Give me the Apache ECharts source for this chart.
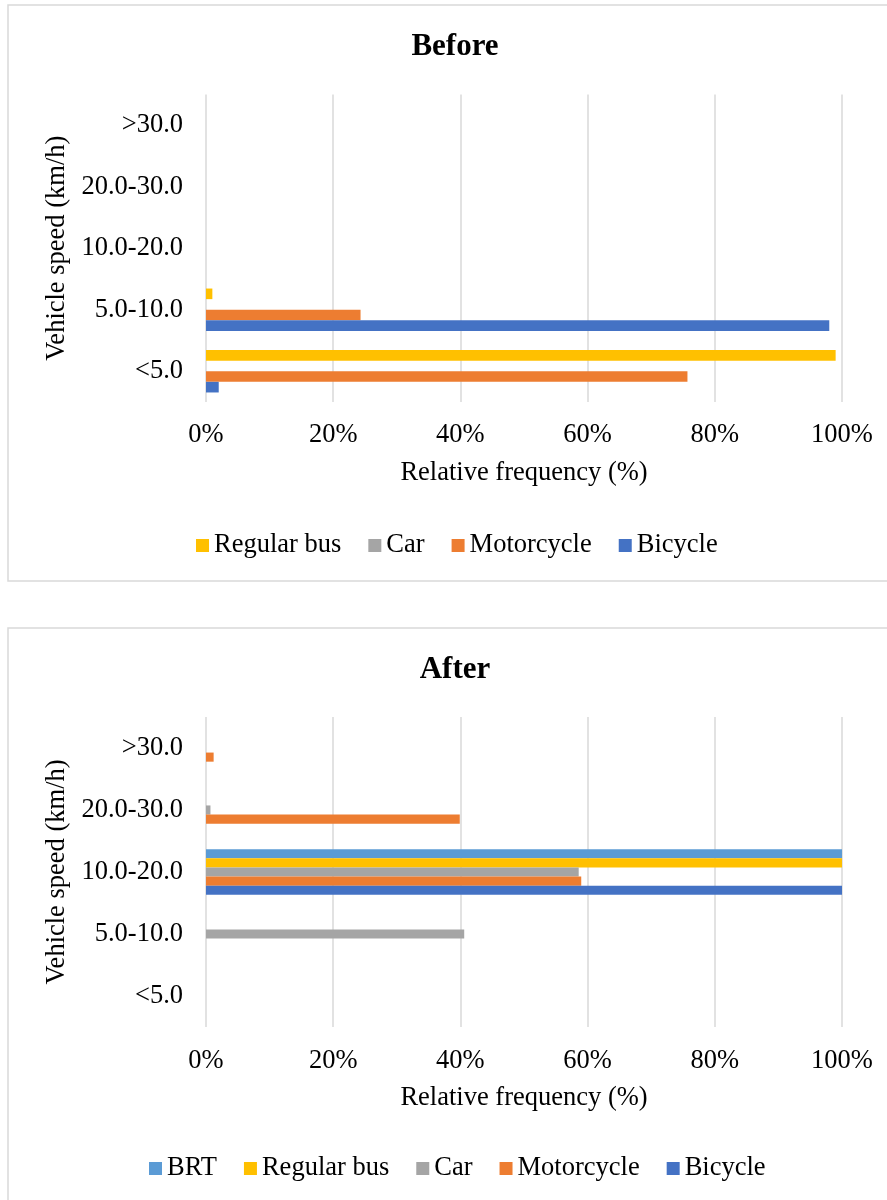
<!DOCTYPE html>
<html>
<head>
<meta charset="utf-8">
<title>Vehicle speed distribution: Before / After</title>
<script src="https://cdn.jsdelivr.net/npm/echarts@6/dist/echarts.min.js"></script>
<style>
  html, body { margin: 0; padding: 0; background: #ffffff; }
  #chart { width: 887px; height: 1200px; }
</style>
</head>
<body>
<div id="chart"></div>
<script>
// Speed classes, bottom to top on the category axis
const speedClasses = ['<5.0', '5.0-10.0', '10.0-20.0', '20.0-30.0', '>30.0'];
const freqTicks = [0, 20, 40, 60, 80, 100];

// Relative frequency (%) per speed class — before
const busBefore        = [99.0, 1.0, 0, 0, 0];
const carBefore        = [0, 0, 0, 0, 0];
const motorcycleBefore = [75.7, 24.3, 0, 0, 0];
const bicycleBefore    = [2.0, 98.0, 0, 0, 0];

// Relative frequency (%) per speed class — after
const brtAfter         = [0, 0, 100, 0, 0];
const busAfter         = [0, 0, 100, 0, 0];
const carAfter         = [0, 40.6, 58.6, 0.7, 0];
const motorcycleAfter  = [0, 0, 59.0, 39.9, 1.2];
const bicycleAfter     = [0, 0, 100, 0, 0];

const legendBefore = ['Regular bus', 'Car', 'Motorcycle', 'Bicycle'];
const legendAfter  = ['BRT', 'Regular bus', 'Car', 'Motorcycle', 'Bicycle'];

const COLORS = {
  'BRT': '#5B9BD5',
  'Regular bus': '#FFC000',
  'Car': '#A5A5A5',
  'Motorcycle': '#ED7D31',
  'Bicycle': '#4472C4'
};

const FONT = "'Liberation Serif', 'Times New Roman', serif";
const FONT_SIZE = 26.5;
const GRID_COLOR = '#d9d9d9';

function bar(name, data, gridIdx, catGap) {
  return {
    type: 'bar',
    name: name,
    xAxisIndex: gridIdx,
    yAxisIndex: gridIdx,
    data: data,
    barGap: '0%',
    barCategoryGap: catGap,
    itemStyle: { color: COLORS[name] },
    emphasis: { disabled: true },
    animation: false
  };
}

function valueAxis(gridIdx, labelMargin, nameGap) {
  return {
    type: 'value',
    gridIndex: gridIdx,
    min: freqTicks[0],
    max: freqTicks[freqTicks.length - 1],
    interval: freqTicks[1] - freqTicks[0],
    name: 'Relative frequency (%)',
    nameLocation: 'middle',
    nameGap: nameGap,
    nameTextStyle: { fontFamily: FONT, fontSize: FONT_SIZE, color: '#000' },
    axisLine: { show: false },
    axisTick: { show: false },
    axisLabel: {
      fontFamily: FONT, fontSize: FONT_SIZE, color: '#000', margin: labelMargin,
      formatter: '{value}%'
    },
    splitLine: { show: true, lineStyle: { color: GRID_COLOR, width: 1.5 } }
  };
}

function categoryAxis(gridIdx) {
  return {
    type: 'category',
    gridIndex: gridIdx,
    data: speedClasses,
    name: 'Vehicle speed (km/h)',
    nameLocation: 'middle',
    nameRotate: 90,
    nameGap: 133,
    nameTextStyle: { fontFamily: FONT, fontSize: FONT_SIZE, color: '#000' },
    axisLine: { show: false },
    axisTick: { show: false },
    axisLabel: { fontFamily: FONT, fontSize: FONT_SIZE, color: '#000', margin: 23 },
    splitLine: { show: false }
  };
}

function legend(names, left, top) {
  return {
    data: names,
    left: left,
    top: top,
    padding: 0,
    orient: 'horizontal',
    icon: 'rect',
    itemWidth: 13,
    itemHeight: 13,
    itemGap: 27,
    selectedMode: false,
    textStyle: { fontFamily: FONT, fontSize: FONT_SIZE, color: '#000' }
  };
}

const chart = echarts.init(document.getElementById('chart'), null, { renderer: 'canvas' });

chart.setOption({
  backgroundColor: '#ffffff',
  animation: false,
  title: [
    {
      text: 'Before', left: 455, top: 31, textAlign: 'center', padding: 0,
      textStyle: { fontFamily: FONT, fontSize: 31, fontWeight: 'bold', color: '#000' }
    },
    {
      text: 'After', left: 455, top: 654, textAlign: 'center', padding: 0,
      textStyle: { fontFamily: FONT, fontSize: 31, fontWeight: 'bold', color: '#000' }
    }
  ],
  legend: [
    legend(legendBefore, 196, 532),
    legend(legendAfter, 149, 1155)
  ],
  grid: [
    { left: 206, width: 636, top: 94.5, height: 307.5, containLabel: false },
    { left: 206, width: 636, top: 717, height: 310, containLabel: false }
  ],
  xAxis: [valueAxis(0, 20, 58), valueAxis(1, 21, 58)],
  yAxis: [categoryAxis(0), categoryAxis(1)],
  series: [
    bar('Regular bus', busBefore, 0, '31%'),
    bar('Car', carBefore, 0, '31%'),
    bar('Motorcycle', motorcycleBefore, 0, '31%'),
    bar('Bicycle', bicycleBefore, 0, '31%'),

    bar('BRT', brtAfter, 1, '26.5%'),
    bar('Regular bus', busAfter, 1, '26.5%'),
    bar('Car', carAfter, 1, '26.5%'),
    bar('Motorcycle', motorcycleAfter, 1, '26.5%'),
    bar('Bicycle', bicycleAfter, 1, '26.5%')
  ],
  graphic: [
    {
      type: 'rect', silent: true, z: -10,
      shape: { x: 8, y: 5, width: 960, height: 576 },
      style: { fill: 'none', stroke: GRID_COLOR, lineWidth: 1.5 }
    },
    {
      type: 'rect', silent: true, z: -10,
      shape: { x: 8, y: 628, width: 960, height: 700 },
      style: { fill: 'none', stroke: GRID_COLOR, lineWidth: 1.5 }
    }
  ]
});
</script>
</body>
</html>
